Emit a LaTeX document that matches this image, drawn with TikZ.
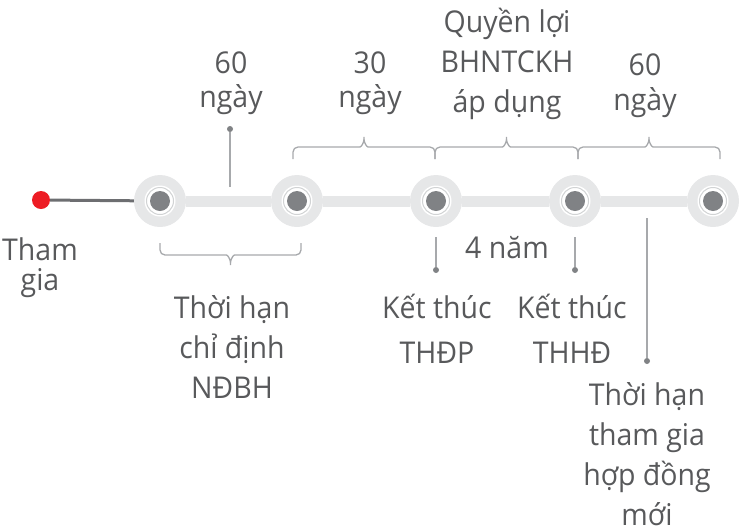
\documentclass[tikz,border=0pt]{standalone}
\usepackage{fontspec}
\setmainfont{Open Sans}[FakeStretch=0.95]
\usepackage{tikz}
\definecolor{barGray}{HTML}{E6E7E8}
\definecolor{ringGray}{HTML}{D1D3D4}
\definecolor{dotGray}{HTML}{808285}
\definecolor{lineGray}{HTML}{A7A9AC}
\definecolor{leadGray}{HTML}{6D6E71}
\definecolor{textGray}{HTML}{58595B}
\definecolor{startRed}{HTML}{ED1C24}
\newcommand{\labelSize}[1]{\fontsize{30}{#1}\selectfont}
\newcommand{\drawBrace}[4]{% left x, right x, end y, direction
  \draw[bracket] (#1,#3) -- (#1,{#3+12*#4}) -- ({(#1+#2)/2-9},{#3+12*#4})
    .. controls ({(#1+#2)/2-3},{#3+12*#4}) and ({(#1+#2)/2},{#3+16*#4}) .. ({(#1+#2)/2},{#3+25*#4})
    .. controls ({(#1+#2)/2},{#3+16*#4}) and ({(#1+#2)/2+3},{#3+12*#4}) .. ({(#1+#2)/2+9},{#3+12*#4})
    -- (#2,{#3+12*#4}) -- (#2,#3);}

\begin{document}
\begin{tikzpicture}[x=1pt, y=-1pt]
  \tikzset{
    every node/.style={text=textGray, font=\labelSize{40}, align=center, inner sep=0pt},
    stage/.style={circle, fill=barGray, minimum size=52pt,
      path picture={
        \fill[white] (path picture bounding box.center) circle (15.5pt);
        \draw[ringGray, line width=1pt] (path picture bounding box.center) circle (13.5pt);
        \fill[dotGray] (path picture bounding box.center) circle (10pt);
      }},
    startdot/.style={circle, fill=startRed, minimum size=18pt},
    pindot/.style={circle, fill=dotGray, minimum size=6pt},
    pinline/.style={lineGray, line width=1.5pt},
    bracket/.style={lineGray, line width=1.3pt, rounded corners=5pt},
    caption/.style={anchor=base, font=\labelSize{#1}},
    caption/.default=40
  }
  \useasboundingbox (0,0) rectangle (739,528);

  % timeline
  \node[startdot] (start) at (41,200) {};
  \foreach \x [count=\i] in {160,297,436,575,713}
    \node[stage] (s\i) at (\x,201) {};
  \draw[leadGray, line width=3pt] (start) -- (s1);
  \foreach \i/\j in {1/2,2/3,3/4,4/5}
    \draw[barGray, line width=11pt] (s\i) -- (s\j);

  % braces
  \drawBrace{160}{301}{243}{1}
  \drawBrace{293}{435}{159}{-1}
  \drawBrace{435}{578}{159}{-1}
  \drawBrace{578}{720}{159}{-1}

  % pins
  \node[pindot] (pin1) at (230,129) {};
  \coordinate (pin1end) at (230,187);
  \node[pindot] (pin2) at (436,270) {};
  \coordinate (pin2end) at (436,237);
  \node[pindot] (pin3) at (575,270) {};
  \coordinate (pin3end) at (575,237);
  \node[pindot] (pin4) at (647,361) {};
  \coordinate (pin4end) at (647,218);
  \foreach \i in {1,...,4}
    \draw[pinline] (pin\i) -- (pin\i end);

  % labels (base = last line)
  \node[caption=30] (join) at (40,290) {Tham\\gia};
  \node[caption=34] (grace) at (231,107) {60\\ngày};
  \node[caption=34] (review) at (370,107) {30\\ngày};
  \node[caption] (benefit) at (507,112) {Quyền lợi\\BHNTCKH\\áp dụng};
  \node[caption=35] (renew) at (645,110) {60\\ngày};
  \node[caption] (term) at (507,258) {4 năm};
  \node[caption] (assign) at (232,398) {Thời hạn\\chỉ định\\NĐBH};
  \node[caption=45] (endthdp) at (437,363) {Kết thúc\\THĐP};
  \node[caption=45] (endthhd) at (572,363) {Kết thúc\\THHĐ};
  \node[caption] (newterm) at (647,525) {Thời hạn\\tham gia\\hợp đồng\\mới};
\end{tikzpicture}
\end{document}
